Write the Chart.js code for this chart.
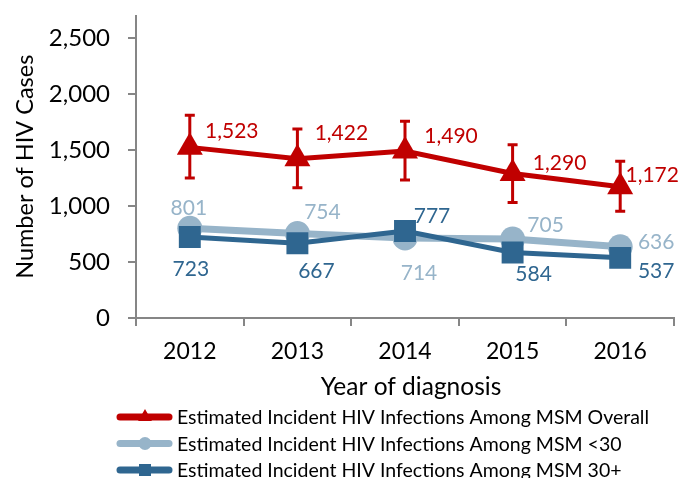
<!DOCTYPE html>
<html>
<head>
<meta charset="utf-8">
<script src="https://cdn.jsdelivr.net/npm/chart.js@4"></script>
<style>
  html, body { margin: 0; padding: 0; background: #fff; }
  #wrap { width: 693px; height: 478px; }
</style>
</head>
<body>
<div id="wrap"><canvas id="myChart" width="693" height="478"></canvas></div>
<script>
const years = ["2012", "2013", "2014", "2015", "2016"];
const overall = [1523, 1422, 1490, 1290, 1172];
const overallLow = [1250, 1163, 1232, 1031, 953];
const overallHigh = [1809, 1687, 1757, 1547, 1399];
const under30 = [801, 754, 714, 705, 636];
const over30 = [723, 667, 777, 584, 537];
const yTicks = [0, 500, 1000, 1500, 2000, 2500];

const RED = "#C00000";
const LIGHT = "#97B4C9";
const DARK = "#2F6690";
const AXIS = "#868686";
const FONT = "Lato";

// label offsets (px) from each point, per dataset
const labelOffsets = [
  [[42, -16], [44, -25], [46, -15], [47, -10], [32, -11]],
  [[-1, -20], [25, -21], [14, 35], [33, -14], [36, -5]],
  [[1, 32], [19, 28], [27, -15], [21, 22], [36, 13]],
];

const fmt = (v) => v.toLocaleString("en-US");

const errorBars = {
  id: "errorBars",
  afterDatasetsDraw(chart) {
    const { ctx } = chart;
    const meta = chart.getDatasetMeta(0);
    const y = chart.scales.y;
    ctx.save();
    ctx.strokeStyle = RED;
    ctx.lineWidth = 3;
    meta.data.forEach((pt, i) => {
      const top = y.getPixelForValue(overallHigh[i]);
      const bot = y.getPixelForValue(overallLow[i]);
      ctx.beginPath();
      ctx.moveTo(pt.x, top);
      ctx.lineTo(pt.x, bot);
      ctx.moveTo(pt.x - 5, top);
      ctx.lineTo(pt.x + 5, top);
      ctx.moveTo(pt.x - 5, bot);
      ctx.lineTo(pt.x + 5, bot);
      ctx.stroke();
    });
    ctx.restore();
  },
};

const valueLabels = {
  id: "valueLabels",
  afterDraw(chart) {
    const { ctx } = chart;
    ctx.save();
    ctx.font = "21px " + FONT;
    ctx.textAlign = "center";
    ctx.textBaseline = "middle";
    chart.data.datasets.forEach((ds, d) => {
      const meta = chart.getDatasetMeta(d);
      ctx.fillStyle = ds.borderColor;
      meta.data.forEach((pt, i) => {
        const [dx, dy] = labelOffsets[d][i];
        ctx.fillText(fmt(ds.data[i]), pt.x + dx, pt.y + dy);
      });
    });
    ctx.restore();
  },
};

// x axis title + stacked legend under the plot
const bottomText = {
  id: "bottomText",
  afterDraw(chart) {
    const { ctx } = chart;
    const sizes = [8, 6.5, 8.5];
    ctx.save();
    ctx.fillStyle = "#000";
    ctx.font = "24.5px " + FONT;
    ctx.textAlign = "center";
    ctx.textBaseline = "middle";
    ctx.fillText("Year of diagnosis", 411, 387);

    chart.data.datasets.forEach((ds, i) => {
      const y = 417 + i * 26.5;
      ctx.strokeStyle = ds.borderColor;
      ctx.fillStyle = ds.borderColor;
      ctx.lineWidth = 7;
      ctx.lineCap = "round";
      ctx.beginPath();
      ctx.moveTo(120, y);
      ctx.lineTo(169, y);
      ctx.stroke();
      Chart.helpers.drawPoint(ctx, {
        pointStyle: ds.pointStyle,
        radius: sizes[i],
        rotation: 0,
        borderWidth: 0,
      }, 145, y);
      ctx.fillStyle = "#000";
      ctx.font = "19.5px " + FONT;
      ctx.textAlign = "left";
      ctx.fillText(ds.label, 177, y + 1);
    });
    ctx.restore();
  },
};

const chartCanvas = document.getElementById("myChart").getContext("2d");
new Chart(chartCanvas, {
  type: "line",
  data: {
    labels: years,
    datasets: [
      {
        label: "Estimated Incident HIV Infections Among MSM Overall",
        data: overall,
        borderColor: RED,
        backgroundColor: RED,
        borderWidth: 5,
        pointStyle: "triangle",
        pointRadius: 15,
        pointBorderWidth: 0,
        order: 0,
      },
      {
        label: "Estimated Incident HIV Infections Among MSM <30",
        data: under30,
        borderColor: LIGHT,
        backgroundColor: LIGHT,
        borderWidth: 7,
        pointStyle: "circle",
        pointRadius: 12.5,
        pointBorderWidth: 0,
        order: 2,
      },
      {
        label: "Estimated Incident HIV Infections Among MSM 30+",
        data: over30,
        borderColor: DARK,
        backgroundColor: DARK,
        borderWidth: 5,
        pointStyle: "rect",
        pointRadius: 15.5,
        pointBorderWidth: 0,
        order: 1,
      },
    ],
  },
  options: {
    responsive: false,
    animation: false,
    devicePixelRatio: 1,
    layout: { padding: { left: 0, right: 19, top: 9, bottom: 80 } },
    plugins: {
      legend: { display: false },
      tooltip: { enabled: false },
    },
    elements: { line: { tension: 0 } },
    scales: {
      x: {
        offset: true,
        grid: {
          offset: true,
          drawOnChartArea: false,
          drawTicks: true,
          tickLength: 8,
          color: AXIS,
          lineWidth: 2,
        },
        border: { display: true, color: AXIS, width: 2 },
        ticks: { color: "#000", font: { family: FONT, size: 23 }, padding: 12 },
        afterFit(scale) {
          scale.height = 80;
          scale.paddingLeft = 0;
          scale.paddingRight = 0;
        },
      },
      y: {
        min: 0,
        max: 2700,
        grid: {
          drawOnChartArea: false,
          drawTicks: true,
          tickLength: 8,
          color: AXIS,
          lineWidth: 2,
        },
        border: { display: true, color: AXIS, width: 2 },
        ticks: {
          color: "#000",
          font: { family: FONT, size: 24 },
          padding: 18,
          callback: (v) => fmt(v),
        },
        afterBuildTicks(scale) {
          scale.ticks = yTicks.map((v) => ({ value: v }));
        },
        title: {
          display: true,
          text: "Number of HIV Cases",
          color: "#000",
          font: { family: FONT, size: 23.5 },
          padding: { top: 11, bottom: 0 },
        },
        afterFit(scale) {
          scale.width = 136;
          scale.paddingTop = 0;
          scale.paddingBottom = 0;
        },
      },
    },
  },
  plugins: [errorBars, valueLabels, bottomText],
});
</script>
</body>
</html>
